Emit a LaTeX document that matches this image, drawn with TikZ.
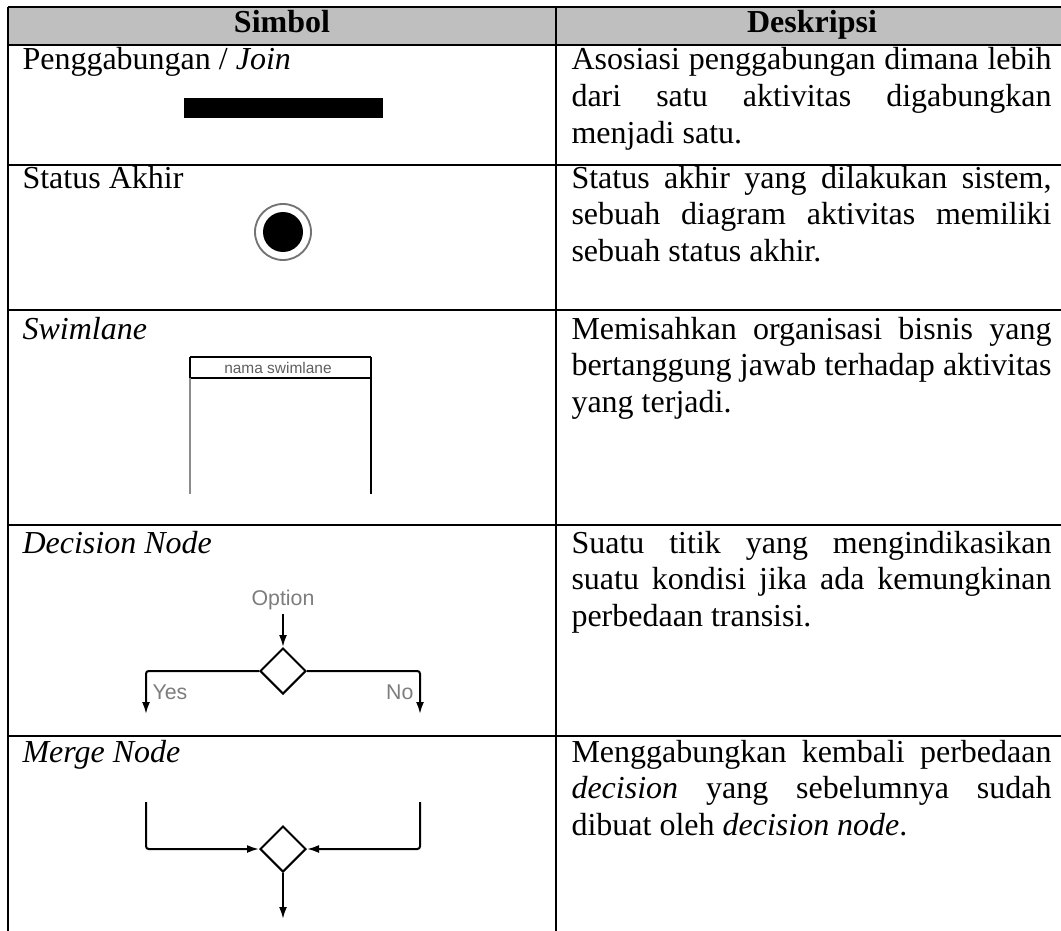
\documentclass[tikz,border=0pt]{standalone}
\usepackage{fontspec}
\setmainfont{Liberation Serif}
\setsansfont{Liberation Sans}
\usetikzlibrary{arrows.meta,shapes.geometric}
\definecolor{headgray}{RGB}{191,191,191}
\definecolor{taggray}{RGB}{125,125,125}
\definecolor{lanegray}{RGB}{95,95,95}
\hyphenpenalty=10000
\exhyphenpenalty=10000
\begin{document}
\begin{tikzpicture}[x=0.375pt,y=-0.375pt,
  tablerule/.style={line width=1.1pt},
  body/.style={inner sep=0pt,font=\fontsize{12}{13.8}\selectfont},
  rowlabel/.style={body,anchor=base west},
  desc/.style={body,anchor=base west,text width=180pt,align=justify},
  headcell/.style={body,anchor=base,font=\fontsize{12}{13.8}\selectfont\bfseries},
  flowtag/.style={inner sep=0pt,text=taggray,font=\sffamily\fontsize{8}{9.6}\selectfont},
  flow/.style={line width=0.75pt},
  arrowend/.style={-{Latex[length=4.5pt,width=3pt]}},
  junction/.style={diamond,draw,line width=0.75pt,minimum width=17.25pt,minimum height=17.25pt,inner sep=0pt}
]
\useasboundingbox (0,0) rectangle (1061,931);
\clip (0,0) rectangle (1061,931);

% table frame
\fill[headgray] (8,7) rectangle (1075,45);
\draw[tablerule] (8,7) -- (1075,7);
\foreach \yy in {45,165,310,525,736}
  \draw[tablerule] (8,\yy) -- (1075,\yy);
\foreach \xx in {8,556,1069}
  \draw[tablerule] (\xx,7) -- (\xx,940);

% header
\node[headcell] (hsym) at (282,33) {Simbol};
\node[headcell] (hdesc) at (812,33) {Deskripsi};

% row 1: join
\node[rowlabel] (l1) at (22,70) {Penggabungan / \textit{Join}};
\fill (184,98) rectangle (383,118);
\node[desc] (d1) at (571,70) {Asosiasi penggabungan dimana lebih\linebreak dari satu aktivitas digabungkan\linebreak menjadi satu.};

% row 2: final state
\node[rowlabel] (l2) at (22,188) {Status Akhir};
\node[circle,draw=black!55,line width=0.7pt,minimum size=21pt,inner sep=0pt] (endring) at (283,232) {};
\node[circle,fill=black,minimum size=15pt,inner sep=0pt] (enddot) at (endring) {};
\node[desc] (d2) at (571,188) {Status akhir yang dilakukan sistem,\linebreak sebuah diagram aktivitas memiliki\linebreak sebuah status akhir.};

% row 3: swimlane
\node[rowlabel] (l3) at (22,339) {\textit{Swimlane}};
\draw[line width=0.8pt] (190,357) -- (371,357);
\draw[line width=1pt] (190,378) -- (371,378);
\draw[line width=0.6pt] (190,357) -- (190,378);
\draw[line width=0.5pt,black!45] (190,378) -- (190,494);
\draw[line width=0.9pt] (371,357) -- (371,494);
\node[inner sep=0pt,text=lanegray,font=\sffamily\fontsize{5.8}{7}\selectfont] (swimname) at (278,368) {nama swimlane};
\node[desc] (d3) at (571,339) {Memisahkan organisasi bisnis yang\linebreak bertanggung jawab terhadap aktivitas\linebreak yang terjadi.};

% row 4: decision node
\node[rowlabel] (l4) at (22,553) {\textit{Decision Node}};
\node[flowtag,anchor=base] (opt) at (283,605) {Option};
\node[junction] (dec) at (283,671) {};
\coordinate (yesend) at (146,714);
\coordinate (noend) at (420,714);
\draw[flow,arrowend] (opt.south) ++(0,4) -- (dec.north);
\draw[flow,arrowend,rounded corners=1pt] (dec.west) -| (yesend);
\draw[flow,arrowend,rounded corners=1pt] (dec.east) -| (noend);
\node[flowtag,anchor=base west] (yes) at (152,699) {Yes};
\node[flowtag,anchor=base east] (no) at (414,699) {No};
\node[desc] (d4) at (571,553) {Suatu titik yang mengindikasikan\linebreak suatu kondisi jika ada kemungkinan\linebreak perbedaan transisi.};

% row 5: merge node
\node[rowlabel] (l5) at (22,762) {\textit{Merge Node}};
\coordinate (mleft) at (146,802);
\coordinate (mright) at (420,802);
\node[junction] (mrg) at (283,849) {};
\coordinate (mout) at (283,919);
\draw[flow,arrowend,rounded corners=1pt] (mleft) |- (mrg.west);
\draw[flow,arrowend,rounded corners=1pt] (mright) |- (mrg.east);
\draw[flow,arrowend] (mrg.south) -- (mout);
\node[desc] (d5) at (571,762) {Menggabungkan kembali perbedaan\linebreak \textit{decision} yang sebelumnya sudah\linebreak dibuat oleh \textit{decision node}.};
\end{tikzpicture}
\end{document}
